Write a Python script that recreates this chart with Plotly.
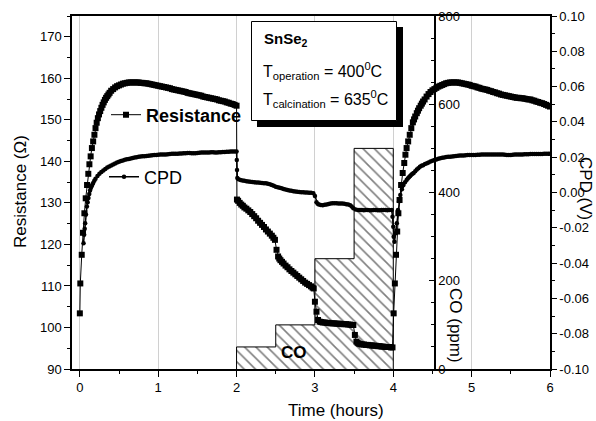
import plotly.graph_objects as go

# ---------------- data ----------------
# Resistance (ohm)
res_t_a = [0.000, 0.006, 0.024, 0.040, 0.058, 0.075, 0.092, 0.108, 0.122, 0.138, 0.154, 0.170, 0.186, 0.200,
           0.215, 0.230, 0.245, 0.260, 0.275, 0.290, 0.305, 0.320, 0.335, 0.350, 0.365, 0.380, 0.400, 0.425,
           0.450, 0.475, 0.500, 0.525, 0.550, 0.575, 0.600, 0.625, 0.650, 0.675, 0.700, 0.725, 0.750, 0.775,
           0.800, 0.825, 0.850, 0.875, 0.900, 0.925, 0.950, 0.975, 1.000, 1.025, 1.050, 1.075, 1.100, 1.125,
           1.150, 1.175, 1.200, 1.225, 1.250, 1.275, 1.300, 1.325, 1.350, 1.375, 1.400, 1.425, 1.450, 1.475,
           1.500, 1.525, 1.550, 1.575, 1.600, 1.625, 1.650, 1.675, 1.700, 1.725, 1.750, 1.775, 1.800, 1.825,
           1.850, 1.875, 1.900, 1.925, 1.950, 1.975, 2.000]
res_a = [103.4, 110.6, 117.5, 122.8, 127.5, 131.1, 134.3, 137.0, 139.3, 141.2, 143.2, 144.8, 146.4, 148.0,
         149.3, 150.4, 151.3, 152.1, 152.9, 153.6, 154.2, 154.8, 155.3, 155.7, 156.1, 156.5, 157.0, 157.4,
         157.8, 158.1, 158.3, 158.5, 158.7, 158.8, 158.9, 159.0, 159.0, 159.0, 159.0, 159.0, 159.0, 158.9,
         158.9, 158.8, 158.8, 158.7, 158.6, 158.5, 158.4, 158.3, 158.2, 158.1, 158.0, 157.9, 157.8, 157.7,
         157.6, 157.4, 157.3, 157.2, 157.1, 157.0, 156.9, 156.8, 156.7, 156.5, 156.4, 156.3, 156.2, 156.1,
         156.0, 155.9, 155.8, 155.6, 155.5, 155.4, 155.3, 155.2, 155.1, 155.0, 154.9, 154.7, 154.6, 154.5,
         154.4, 154.2, 154.1, 153.9, 153.8, 153.6, 153.4]

res_t_b = [2.005, 2.020, 2.040, 2.060, 2.080, 2.100, 2.125, 2.150, 2.175, 2.200, 2.225, 2.250, 2.275, 2.300,
           2.325, 2.350, 2.375, 2.400, 2.425, 2.450, 2.470, 2.490, 2.510, 2.530, 2.545, 2.560, 2.580, 2.600,
           2.625, 2.650, 2.675, 2.700, 2.725, 2.750, 2.775, 2.800, 2.825, 2.850, 2.875, 2.900, 2.925, 2.950,
           2.970, 2.985, 3.000, 3.020, 3.040, 3.060, 3.080, 3.100, 3.125, 3.150, 3.175, 3.200, 3.225, 3.250,
           3.275, 3.300, 3.325, 3.350, 3.375, 3.400, 3.425, 3.450, 3.470, 3.490, 3.510, 3.530, 3.545, 3.560,
           3.580, 3.600, 3.625, 3.650, 3.675, 3.700, 3.725, 3.750, 3.775, 3.800, 3.825, 3.850, 3.875, 3.900,
           3.925, 3.950, 3.970, 3.990]
res_b = [130.8, 130.5, 130.0, 129.6, 129.3, 128.9, 128.6, 128.2, 127.8, 127.3, 126.8, 126.3, 125.7, 125.2,
         124.7, 124.2, 123.6, 123.1, 122.6, 122.1, 121.6, 121.1, 118.7, 117.1, 116.6, 116.2, 115.8, 115.4,
         114.9, 114.5, 114.0, 113.6, 113.2, 112.8, 112.4, 112.0, 111.6, 111.2, 110.8, 110.5, 110.2, 109.9,
         109.6, 109.4, 106.2, 103.8, 101.8, 101.4, 101.3, 101.2, 101.2, 101.1, 101.1, 101.0, 101.0, 101.0,
         100.9, 100.9, 100.9, 100.8, 100.8, 100.8, 100.7, 100.7, 100.6, 100.6, 98.2, 96.6, 96.3, 96.1,
         96.0, 95.9, 95.9, 95.8, 95.8, 95.7, 95.7, 95.6, 95.6, 95.5, 95.5, 95.4, 95.4, 95.3,
         95.3, 95.3, 95.2, 95.2]

res_t_c = [4.005, 4.020, 4.035, 4.050, 4.065, 4.080, 4.100, 4.120, 4.140, 4.155, 4.170, 4.190, 4.210, 4.230,
           4.250, 4.265, 4.280, 4.300, 4.315, 4.330, 4.350, 4.365, 4.380, 4.400, 4.425, 4.450, 4.475, 4.500,
           4.525, 4.550, 4.575, 4.600, 4.625, 4.650, 4.675, 4.700, 4.725, 4.750, 4.775, 4.800, 4.825, 4.850,
           4.875, 4.900, 4.925, 4.950, 4.975, 5.000, 5.025, 5.050, 5.075, 5.100, 5.125, 5.150, 5.175, 5.200,
           5.225, 5.250, 5.275, 5.300, 5.325, 5.350, 5.375, 5.400, 5.425, 5.450, 5.475, 5.500, 5.525, 5.550,
           5.575, 5.600, 5.625, 5.650, 5.675, 5.700, 5.725, 5.750, 5.775, 5.800, 5.825, 5.850, 5.875, 5.900,
           5.925, 5.950, 5.975, 6.000]
res_c = [103.4, 110.6, 117.5, 123.1, 127.5, 130.7, 134.3, 137.2, 139.6, 141.6, 143.2, 144.8, 146.4, 148.0,
         149.4, 150.1, 150.8, 151.6, 152.2, 152.8, 153.4, 153.9, 154.4, 154.9, 155.6, 156.2, 156.7, 157.1,
         157.4, 157.7, 158.0, 158.2, 158.4, 158.6, 158.8, 158.9, 159.0, 159.0, 159.0, 159.0, 159.0, 158.9,
         158.8, 158.7, 158.6, 158.5, 158.4, 158.2, 158.1, 158.0, 157.8, 157.7, 157.5, 157.4, 157.3, 157.2,
         157.0, 156.9, 156.7, 156.6, 156.4, 156.3, 156.1, 156.0, 155.9, 155.8, 155.7, 155.6, 155.5, 155.4,
         155.3, 155.3, 155.2, 155.2, 155.1, 155.0, 154.9, 154.9, 154.7, 154.6, 154.4, 154.3, 154.1, 154.0,
         153.8, 153.6, 153.4, 153.2]

# Contact potential difference (V)
cpd_t_a = [0.047, 0.055, 0.062, 0.068, 0.078, 0.090, 0.100, 0.110, 0.120, 0.130, 0.140, 0.150, 0.160, 0.170,
           0.185, 0.200, 0.225, 0.250, 0.275, 0.300, 0.325, 0.350, 0.375, 0.400, 0.425, 0.450, 0.475, 0.500,
           0.525, 0.550, 0.575, 0.600, 0.625, 0.650, 0.675, 0.700, 0.725, 0.750, 0.775, 0.800, 0.825, 0.850,
           0.875, 0.900, 0.925, 0.950, 0.975, 1.000, 1.025, 1.050, 1.075, 1.100, 1.125, 1.150, 1.175, 1.200,
           1.225, 1.250, 1.275, 1.300, 1.325, 1.350, 1.375, 1.400, 1.425, 1.450, 1.475, 1.500, 1.525, 1.550,
           1.575, 1.600, 1.625, 1.650, 1.675, 1.700, 1.725, 1.750, 1.775, 1.800, 1.825, 1.850, 1.875, 1.900,
           1.925, 1.950, 1.975, 2.000]
cpd_a = [-0.0287, -0.0240, -0.0205, -0.0174, -0.0125, -0.0080, -0.0055, -0.0031, -0.0008, 0.0012, 0.0025,
         0.0035, 0.0045, 0.0054, 0.0066, 0.0078, 0.0093, 0.0106, 0.0116, 0.0125, 0.0133, 0.0141, 0.0147,
         0.0153, 0.0159, 0.0165, 0.0170, 0.0174, 0.0178, 0.0181, 0.0185, 0.0188, 0.0190, 0.0193, 0.0196,
         0.0198, 0.0200, 0.0202, 0.0204, 0.0205, 0.0206, 0.0207, 0.0208, 0.0209, 0.0211, 0.0212, 0.0213,
         0.0214, 0.0215, 0.0215, 0.0216, 0.0216, 0.0217, 0.0218, 0.0219, 0.0219, 0.0220, 0.0220, 0.0221,
         0.0221, 0.0222, 0.0223, 0.0224, 0.0224, 0.0223, 0.0222, 0.0223, 0.0224, 0.0225, 0.0226, 0.0226,
         0.0226, 0.0227, 0.0227, 0.0228, 0.0228, 0.0227, 0.0227, 0.0228, 0.0228, 0.0229, 0.0230, 0.0231,
         0.0231, 0.0232, 0.0232, 0.0233, 0.0233]

cpd_t_b = [2.003, 2.006, 2.010, 2.025, 2.050, 2.075, 2.100, 2.125, 2.150, 2.175, 2.200, 2.225, 2.250, 2.275,
           2.300, 2.325, 2.350, 2.375, 2.400, 2.425, 2.450, 2.475, 2.500, 2.525, 2.550, 2.575, 2.600, 2.625,
           2.650, 2.675, 2.700, 2.725, 2.750, 2.775, 2.800, 2.825, 2.850, 2.875, 2.900, 2.925, 2.950, 2.980,
           3.000, 3.020, 3.035, 3.050, 3.075, 3.100, 3.125, 3.150, 3.175, 3.200, 3.225, 3.250, 3.275, 3.300,
           3.325, 3.350, 3.375, 3.400, 3.425, 3.450, 3.470, 3.490, 3.520, 3.550, 3.575, 3.600, 3.625, 3.650,
           3.675, 3.700, 3.725, 3.750, 3.775, 3.800, 3.825, 3.850, 3.875, 3.900, 3.925, 3.950, 3.980]
cpd_b = [0.0184, 0.0128, 0.0082, 0.0075, 0.0071, 0.0068, 0.0066, 0.0064, 0.0062, 0.0061, 0.0060, 0.0058,
         0.0057, 0.0056, 0.0055, 0.0054, 0.0053, 0.0052, 0.0050, 0.0047, 0.0043, 0.0038, 0.0033, 0.0030,
         0.0027, 0.0024, 0.0020, 0.0017, 0.0014, 0.0012, 0.0010, 0.0007, 0.0005, 0.0004, 0.0003, 0.0002,
         0.0001, 0.0000, 0.0000, -0.0001, -0.0002, -0.0004,
         -0.0020, -0.0055, -0.0064, -0.0068, -0.0071, -0.0072, -0.0070, -0.0068, -0.0065, -0.0062, -0.0061,
         -0.0061, -0.0061, -0.0062, -0.0062, -0.0063, -0.0064, -0.0066, -0.0068, -0.0072, -0.0080, -0.0089,
         -0.0097, -0.0099, -0.0099, -0.0099, -0.0100, -0.0099, -0.0099, -0.0100, -0.0100, -0.0099, -0.0099,
         -0.0100, -0.0100, -0.0099, -0.0099, -0.0099, -0.0100, -0.0099, -0.0099]

cpd_t_c = [3.990, 4.000, 4.005, 4.015, 4.030, 4.045, 4.060, 4.075, 4.090, 4.110, 4.130, 4.150, 4.170, 4.185,
           4.200, 4.215, 4.230, 4.245, 4.260, 4.280, 4.300, 4.320, 4.340, 4.360, 4.380, 4.405, 4.430, 4.450,
           4.475, 4.500, 4.525, 4.550, 4.575, 4.600, 4.625, 4.650, 4.675, 4.700, 4.725, 4.750, 4.775, 4.800,
           4.825, 4.850, 4.875, 4.900, 4.925, 4.950, 4.975, 5.000, 5.025, 5.050, 5.075, 5.100, 5.125, 5.150,
           5.175, 5.200, 5.225, 5.250, 5.275, 5.300, 5.325, 5.350, 5.375, 5.400, 5.425, 5.450, 5.475, 5.500,
           5.525, 5.550, 5.575, 5.600, 5.625, 5.650, 5.675, 5.700, 5.725, 5.750, 5.775, 5.800, 5.825, 5.850,
           5.875, 5.900, 5.925, 5.950, 5.975, 6.000]
cpd_c = [-0.0137, -0.0194, -0.0250, -0.0279, -0.0231, -0.0174, -0.0099, -0.0050, -0.0014, 0.0018, 0.0043,
         0.0058, 0.0071, 0.0079, 0.0086, 0.0093, 0.0100, 0.0106, 0.0111, 0.0121, 0.0130, 0.0138, 0.0146,
         0.0151, 0.0155, 0.0161, 0.0166, 0.0170, 0.0175, 0.0180, 0.0184, 0.0187, 0.0191, 0.0194, 0.0197,
         0.0199, 0.0201, 0.0202, 0.0203, 0.0204, 0.0206, 0.0207, 0.0208, 0.0209, 0.0210, 0.0210, 0.0211,
         0.0212, 0.0213, 0.0213, 0.0213, 0.0213, 0.0214, 0.0214, 0.0215, 0.0215, 0.0215, 0.0215, 0.0216,
         0.0215, 0.0216, 0.0216, 0.0216, 0.0216, 0.0215, 0.0215, 0.0214, 0.0212, 0.0212, 0.0213, 0.0214,
         0.0215, 0.0216, 0.0216, 0.0216, 0.0216, 0.0217, 0.0217, 0.0217, 0.0218, 0.0218, 0.0218, 0.0218,
         0.0218, 0.0218, 0.0218, 0.0219, 0.0219, 0.0219, 0.0219]

co_edges = [2.0, 2.5, 3.0, 3.5, 4.0]      # hours
co_levels = [50, 100, 250, 500]          # ppm

x_ticks = [0, 1, 2, 3, 4, 5, 6]
res_ticks = [90, 100, 110, 120, 130, 140, 150, 160, 170]
co_ticks = [0, 200, 400, 600, 800]
cpd_ticks = [-0.10, -0.08, -0.06, -0.04, -0.02, 0.00, 0.02, 0.04, 0.06, 0.08, 0.10]

assert len(res_t_a) == len(res_a) and len(res_t_b) == len(res_b) and len(res_t_c) == len(res_c)
assert len(cpd_t_a) == len(cpd_a) and len(cpd_t_b) == len(cpd_b) and len(cpd_t_c) == len(cpd_c)

res_t = res_t_a + res_t_b + res_t_c
res_ohm = res_a + res_b + res_c
cpd_t = cpd_t_a + cpd_t_b + cpd_t_c
cpd_v = cpd_a + cpd_b + cpd_c

# ---------------- layout helpers ----------------
W, H = 596, 421
L, R, T, B = 72, 550, 16, 369


def px_x(p):
    return (p - L) / (R - L)


def px_y(p):
    return (B - p) / (B - T)


FONT = "Arial, Liberation Sans, sans-serif"

# step outline of the CO exposure
co_x = [co_edges[0]] + co_edges[:-1] + [co_edges[-1], co_edges[-1]]
co_y = [0] + co_levels + [co_levels[-1], 0]

fig = go.Figure()

fig.add_trace(go.Scatter(
    x=co_x, y=co_y, yaxis="y", mode="lines", line=dict(color="black", width=1, shape="hv"),
    fill="tozeroy", fillcolor="white",
    fillpattern=dict(shape="\\", fgcolor="black", bgcolor="white", size=8, solidity=0.2),
    showlegend=False, hoverinfo="skip"))

fig.add_trace(go.Scatter(
    x=res_t, y=res_ohm, yaxis="y2", mode="lines+markers", name="<b>Resistance</b>",
    line=dict(color="black", width=1), marker=dict(symbol="square", size=6, color="black"),
    legend="legend"))

fig.add_trace(go.Scatter(
    x=cpd_t, y=cpd_v, yaxis="y3", mode="lines+markers", name="CPD",
    line=dict(color="black", width=1.5), marker=dict(symbol="circle", size=4.5, color="black"),
    legend="legend2"))

tickfont = dict(family=FONT, size=13, color="black")

fig.update_layout(
    width=W, height=H,
    margin=dict(l=L, r=W - R, t=T, b=H - B),
    paper_bgcolor="white", plot_bgcolor="white",
    font=dict(family=FONT, color="black"),
    xaxis=dict(range=[-0.1, 6.0], tickvals=x_ticks, ticks="outside", ticklen=6, tickwidth=1,
               tickcolor="black", minor=dict(dtick=0.5, tick0=0, ticks="outside", ticklen=3, tickcolor="black"),
               showline=True, linecolor="black", linewidth=1.5, mirror=True,
               showgrid=True, gridcolor="#d0d0d0", gridwidth=1, zeroline=False,
               tickfont=tickfont, automargin=False),
    yaxis=dict(range=[0, 800], anchor="free", position=px_x(435), side="right",
               tickvals=co_ticks, ticks="inside", ticklen=5, tickcolor="black",
               minor=dict(dtick=50, tick0=0, ticks="inside", ticklen=3, tickcolor="black"),
               showline=True, linecolor="black", linewidth=1.5, showgrid=False, zeroline=False,
               tickfont=tickfont, automargin=False),
    yaxis2=dict(range=[90, 175], overlaying="y", anchor="x", side="left",
                tickvals=res_ticks, ticks="outside", ticklen=6, tickcolor="black",
                minor=dict(dtick=5, tick0=90, ticks="outside", ticklen=3, tickcolor="black"),
                showline=True, linecolor="black", linewidth=1.5, showgrid=False, zeroline=False,
                tickfont=tickfont, automargin=False),
    yaxis3=dict(range=[-0.1, 0.1], overlaying="y", anchor="x", side="right",
                tickvals=cpd_ticks, ticktext=[f"{v:.2f}" for v in cpd_ticks],
                ticks="outside", ticklen=5, tickcolor="black",
                minor=dict(dtick=0.01, tick0=0, ticks="outside", ticklen=3, tickcolor="black"),
                showline=True, linecolor="black", linewidth=1.5, showgrid=False, zeroline=False,
                tickfont=tickfont, automargin=False),
    legend=dict(x=px_x(106), y=px_y(115), xanchor="left", yanchor="middle",
                bgcolor="rgba(0,0,0,0)", font=dict(family=FONT, size=18, color="black")),
    legend2=dict(x=px_x(104), y=px_y(177), xanchor="left", yanchor="middle",
                 bgcolor="rgba(0,0,0,0)", font=dict(family=FONT, size=18, color="black")),
    showlegend=True,
)

# text box with shadow
fig.add_shape(type="rect", xref="paper", yref="paper",
              x0=px_x(257), x1=px_x(403), y0=px_y(127), y1=px_y(27),
              fillcolor="black", line=dict(width=0), layer="above")
fig.add_shape(type="rect", xref="paper", yref="paper",
              x0=px_x(251.5), x1=px_x(396.5), y0=px_y(120.5), y1=px_y(21.5),
              fillcolor="white", line=dict(color="black", width=1), layer="above")

ann = [
    dict(text="<b>SnSe<sub>2</sub></b>", x=px_x(262), y=px_y(40), size=15),
    dict(text="T<sub>operation</sub> = 400<sup>0</sup>C", x=px_x(261), y=px_y(71), size=16),
    dict(text="T<sub>calcination</sub> = 635<sup>0</sup>C", x=px_x(261), y=px_y(99), size=16),
]
for a in ann:
    fig.add_annotation(text=a["text"], x=a["x"], y=a["y"], xref="paper", yref="paper",
                       xanchor="left", yanchor="middle", showarrow=False,
                       font=dict(family=FONT, size=a["size"], color="black"))

# CO label on the hatched steps
fig.add_annotation(text="<b>CO</b>", x=2.733, y=38, xref="x", yref="y", showarrow=False,
                   font=dict(family=FONT, size=17, color="black"))

# axis titles
titles = [
    dict(text="Resistance (\u03a9)", x=20, y=192, angle=-90),
    dict(text="Time (hours)", x=336, y=410, angle=0),
    dict(text="CO (ppm)", x=456, y=325, angle=90),
    dict(text="CPD (V)", x=586, y=188, angle=90),
]
for t in titles:
    fig.add_annotation(text=t["text"], x=px_x(t["x"]), y=px_y(t["y"]), xref="paper", yref="paper",
                       xanchor="center", yanchor="middle", textangle=t["angle"], showarrow=False,
                       font=dict(family=FONT, size=17, color="black"))

fig.write_html("out.html")
